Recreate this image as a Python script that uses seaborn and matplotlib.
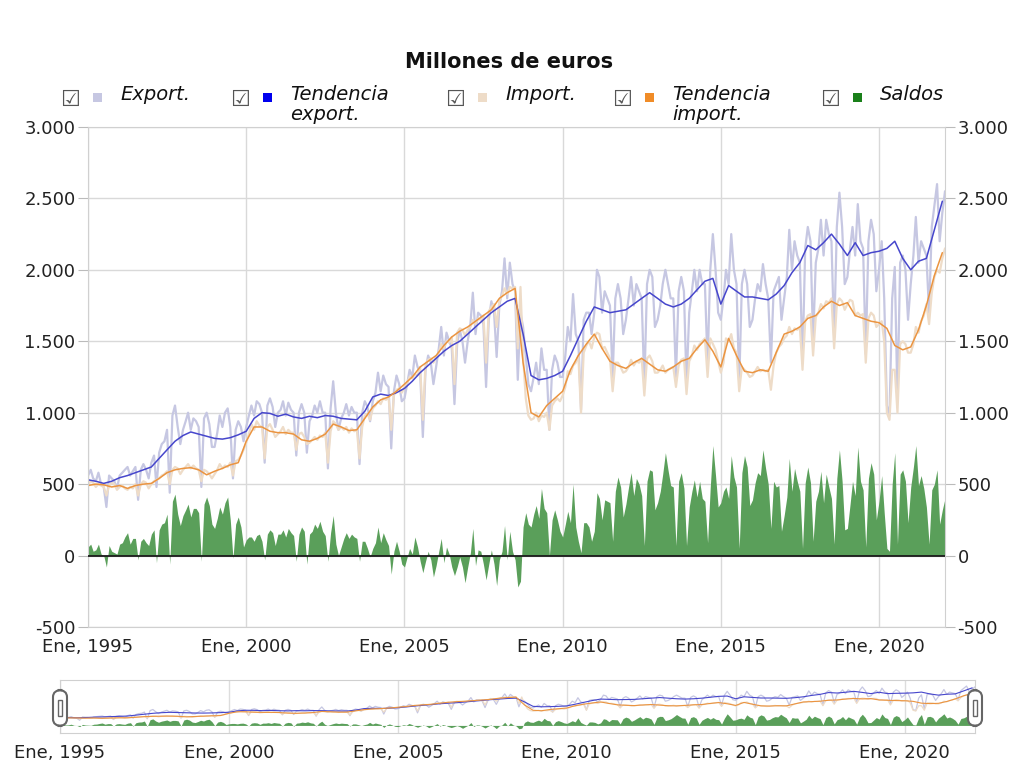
import numpy as np
import pandas as pd
import matplotlib
matplotlib.use("Agg")
import matplotlib.pyplot as plt
import matplotlib.patches as mpatches
import seaborn as sns

# datos mensuales (millones de euros), ene 1995 - feb 2022
export_raw = [
    560, 600, 540, 520, 580, 500, 480, 340, 560, 540, 520, 470,          # 1995
    560, 580, 600, 620, 560, 590, 620, 390, 600, 640, 600, 540,          # 1996
    650, 700, 480, 720, 780, 800, 880, 440, 980, 1050, 900, 780,         # 1997
    880, 940, 1000, 880, 960, 940, 900, 480, 960, 1000, 920, 760,        # 1998
    760, 860, 980, 900, 1000, 1030, 900, 540, 880, 940, 900, 800,        # 1999
    900, 980, 1050, 980, 1080, 1060, 1000, 650, 1050, 1100, 1040, 900,   # 2000
    1000, 1020, 1080, 980, 1070, 1020, 1000, 700, 1000, 1060, 1000, 720, # 2001
    940, 980, 1050, 1000, 1080, 1000, 1000, 610, 1030, 1220, 1000, 880,  # 2002
    960, 1000, 1060, 980, 1040, 1000, 1000, 640, 1000, 1080, 1040, 940,  # 2003
    1080, 1140, 1280, 1150, 1260, 1200, 1180, 750, 1150, 1260, 1200, 1080,  # 2004
    1100, 1200, 1300, 1250, 1400, 1320, 1280, 830, 1300, 1400, 1350, 1200,  # 2005
    1320, 1450, 1600, 1400, 1560, 1500, 1450, 1060, 1480, 1580, 1500, 1350, # 2006
    1500, 1620, 1840, 1550, 1700, 1680, 1620, 1180, 1650, 1780, 1700, 1390, # 2007
    1750, 1850, 2080, 1800, 2050, 1900, 1850, 1230, 1700, 1600, 1400, 1200, # 2008
    1150, 1250, 1350, 1200, 1450, 1300, 1300, 880, 1300, 1400, 1350, 1250,  # 2009
    1250, 1400, 1600, 1500, 1830, 1550, 1500, 1020, 1650, 1700, 1700, 1550, # 2010
    1700, 2000, 1950, 1700, 1850, 1800, 1750, 1250, 1800, 1900, 1800, 1550, # 2011
    1650, 1800, 1950, 1750, 1900, 1850, 1800, 1190, 1900, 2000, 1950, 1600, # 2012
    1650, 1750, 1900, 2000, 1900, 1800, 1800, 1250, 1850, 1950, 1850, 1200, # 2013
    1700, 1850, 2000, 1850, 2000, 1900, 1900, 1340, 2000, 2250, 2000, 1700, # 2014
    1650, 1800, 2000, 1900, 2250, 2000, 1900, 1200, 1900, 2000, 1900, 1600, # 2015
    1650, 1800, 1900, 1850, 2040, 1900, 1800, 1350, 1850, 1900, 1950, 1650, # 2016
    1800, 1950, 2280, 2000, 2200, 2100, 2050, 1350, 2150, 2300, 2200, 1500, # 2017
    2050, 2150, 2350, 2100, 2350, 2250, 2200, 1530, 2300, 2540, 2300, 1900, # 2018
    1950, 2150, 2300, 2100, 2460, 2200, 2150, 1410, 2200, 2350, 2250, 1850, # 2019
    2000, 2200, 1800, 1050, 980, 1800, 2020, 1080, 2050, 2100, 2000, 1650,  # 2020
    1900, 2100, 2370, 2050, 2200, 2150, 2100, 1700, 2300, 2450, 2600, 2200, # 2021
    2400, 2550,                                                             # 2022
]

import_raw = [
    500, 520, 510, 480, 500, 490, 480, 420, 490, 510, 500, 460,          # 1995
    480, 490, 470, 460, 480, 470, 500, 420, 500, 520, 510, 470,          # 1996
    500, 520, 530, 540, 560, 570, 590, 500, 600, 620, 610, 570,          # 1997
    600, 620, 640, 610, 630, 610, 600, 520, 600, 590, 570, 540,          # 1998
    570, 600, 640, 610, 630, 620, 650, 560, 660, 670, 700, 740,          # 1999
    790, 850, 920, 880, 940, 910, 900, 680, 900, 920, 880, 830,          # 2000
    850, 870, 900, 850, 880, 860, 860, 740, 850, 860, 830, 780,          # 2001
    790, 810, 830, 810, 840, 830, 860, 650, 870, 940, 920, 880,          # 2002
    900, 880, 900, 860, 890, 870, 880, 680, 900, 980, 990, 950,          # 2003
    1030, 1050, 1080, 1060, 1100, 1090, 1110, 880, 1120, 1160, 1170, 1140,  # 2004
    1180, 1210, 1250, 1240, 1270, 1260, 1320, 950, 1340, 1370, 1380, 1350,  # 2005
    1390, 1420, 1480, 1450, 1500, 1490, 1530, 1200, 1560, 1590, 1580, 1540, # 2006
    1580, 1600, 1650, 1620, 1660, 1650, 1680, 1350, 1710, 1740, 1760, 1600, # 2007
    1780, 1820, 1870, 1830, 1880, 1870, 1880, 1450, 1880, 1400, 1100, 980,  # 2008
    950, 960, 1000, 940, 980, 970, 1000, 880, 1050, 1080, 1100, 1080,       # 2009
    1120, 1180, 1290, 1270, 1330, 1350, 1400, 1000, 1420, 1470, 1500, 1450, # 2010
    1530, 1560, 1550, 1450, 1460, 1420, 1380, 1150, 1350, 1350, 1320, 1280, # 2011
    1290, 1320, 1370, 1330, 1360, 1350, 1380, 1120, 1380, 1400, 1360, 1280, # 2012
    1280, 1300, 1330, 1280, 1300, 1310, 1320, 1180, 1330, 1370, 1380, 1130, # 2013
    1360, 1400, 1470, 1440, 1480, 1500, 1520, 1250, 1520, 1480, 1440, 1360, # 2014
    1280, 1350, 1520, 1500, 1550, 1450, 1420, 1150, 1320, 1300, 1280, 1250, # 2015
    1260, 1290, 1320, 1290, 1300, 1290, 1300, 1160, 1330, 1420, 1460, 1480, # 2016
    1520, 1540, 1600, 1550, 1590, 1580, 1600, 1300, 1640, 1680, 1690, 1400, # 2017
    1670, 1700, 1760, 1730, 1780, 1770, 1800, 1450, 1760, 1800, 1780, 1720, # 2018
    1760, 1790, 1780, 1680, 1700, 1680, 1690, 1350, 1660, 1700, 1680, 1600, # 2019
    1620, 1640, 1500, 1000, 950, 1300, 1300, 1000, 1480, 1500, 1480, 1420,  # 2020
    1420, 1480, 1600, 1560, 1640, 1680, 1760, 1620, 1840, 1950, 2000, 1980, # 2021
    2080, 2150,                                                             # 2022
]

# tendencias (trimestrales: ene, abr, jul, oct)
tend_export = [
    530, 520, 505, 520,  545, 560, 580, 600,  620, 680, 740, 800,
    840, 865, 850, 835,  820, 815, 825, 845,  870, 960, 1000, 995,
    975, 990, 970, 960,  975, 965, 980, 975,  960, 955, 950, 1010,
    1110, 1130, 1120, 1140,  1170, 1220, 1280, 1330,  1380, 1430, 1470, 1500,
    1550, 1600, 1650, 1700,  1740, 1780, 1800, 1550,  1260, 1230, 1240, 1260,
    1290, 1400, 1520, 1640,  1740, 1720, 1700, 1710,  1720, 1760, 1800, 1840,
    1800, 1760, 1740, 1760,  1800, 1860, 1920, 1940,  1760, 1890, 1850, 1810,
    1810, 1800, 1790, 1830,  1890, 1980, 2050, 2170,  2140, 2190, 2250, 2180,
    2100, 2190, 2100, 2120,  2130, 2150, 2200, 2080,  2000, 2060, 2080, 2280,
    2480,
]
tend_import = [
    490, 500, 495, 480,  490, 470, 490, 500,  505, 540, 580, 600,
    610, 615, 600, 565,  590, 610, 635, 650,  800, 900, 900, 870,
    860, 860, 850, 810,  800, 820, 850, 920,  900, 875, 880, 960,
    1040, 1090, 1110, 1150,  1200, 1250, 1320, 1360,  1400, 1470, 1530, 1570,
    1600, 1640, 1680, 1720,  1800, 1840, 1870, 1350,  1000, 970, 1050, 1100,
    1150, 1300, 1400, 1480,  1550, 1450, 1360, 1330,  1310, 1350, 1380, 1340,
    1300, 1290, 1320, 1360,  1380, 1450, 1510, 1430,  1320, 1520, 1400, 1290,
    1280, 1300, 1290, 1420,  1550, 1570, 1600, 1660,  1680, 1740, 1780, 1750,
    1770, 1680, 1660, 1640,  1630, 1590, 1470, 1440,  1460, 1580, 1750, 1960,
    2120,
]

anios_ticks = [1995, 2000, 2005, 2010, 2015, 2020]
etiquetas_x = ["Ene, 1995", "Ene, 2000", "Ene, 2005", "Ene, 2010", "Ene, 2015", "Ene, 2020"]
yticks = [-500, 0, 500, 1000, 1500, 2000, 2500, 3000]

df = pd.DataFrame({"fecha": pd.date_range("1995-01-01", periods=len(export_raw), freq="MS"),
                   "export": export_raw, "import": import_raw})
df["saldo"] = df["export"] - df["import"]
tend = pd.DataFrame({"fecha": pd.date_range("1995-01-01", periods=len(tend_export), freq="QS"),
                     "export": tend_export, "import": tend_import})

sns.set_style("white")
plt.rcParams["font.family"] = ["DejaVu Sans"]

C_EXP = "#c6c7e2"
C_TEXP = "#4646cc"
C_IMP = "#eedcc8"
C_TIMP = "#eb9440"
C_SAL = "#5a9f5a"

fig = plt.figure(figsize=(10.19, 7.75), dpi=100)
ax = fig.add_axes([0.0864, 0.191, 0.841, 0.6452])

def miles(v, pos=None):
    return f"{v:,.0f}".replace(",", ".")

def dibuja(a, lw_raw, lw_t):
    a.fill_between(df["fecha"], 0, df["saldo"], color=C_SAL, lw=0)
    sns.lineplot(data=df, x="fecha", y="export", ax=a, color=C_EXP, lw=lw_raw)
    sns.lineplot(data=df, x="fecha", y="import", ax=a, color=C_IMP, lw=lw_raw)
    sns.lineplot(data=tend, x="fecha", y="export", ax=a, color=C_TEXP, lw=lw_t)
    sns.lineplot(data=tend, x="fecha", y="import", ax=a, color=C_TIMP, lw=lw_t)
    a.set_xlim(pd.Timestamp("1995-01-01"), pd.Timestamp("2022-02-01"))
    a.set_ylim(-500, 3000)
    a.set_xlabel("")
    a.set_ylabel("")
    a.set_xticks([pd.Timestamp(f"{y}-01-01") for y in anios_ticks])
    a.set_xticklabels(etiquetas_x, fontsize=13, color="#222222")
    for s in a.spines.values():
        s.set_color("#d0d0d0")

dibuja(ax, 1.6, 1.1)
ax.axhline(0, color="#1a1a1a", lw=1.3, zorder=5)
ax.set_yticks(yticks)
ax.yaxis.set_major_formatter(matplotlib.ticker.FuncFormatter(miles))
ax.grid(True, color="#d9d9d9", lw=1)
ax.set_axisbelow(True)
ax.tick_params(axis="y", labelsize=13, labelcolor="#222222", length=7, color="#bbbbbb",
               left=True, right=True, labelleft=True, labelright=True, pad=2)
ax.tick_params(axis="x", length=0, pad=8)

# navegador inferior
ax2 = fig.add_axes([0.0589, 0.0542, 0.898, 0.0684])
dibuja(ax2, 0.9, 0.8)
ax2.set_yticks([])
ax2.grid(True, axis="x", color="#dddddd", lw=1)
ax2.set_axisbelow(True)
ax2.tick_params(axis="x", length=0, pad=8)
for xp in [60, 975]:
    fig.patches.append(mpatches.FancyBboxPatch(((xp - 7) / 1019, 1 - 726 / 775), 14 / 1019, 36 / 775,
                       boxstyle="round,pad=0,rounding_size=0.009", transform=fig.transFigure,
                       facecolor="white", edgecolor="#666666", lw=1.5, zorder=10))
    fig.patches.append(mpatches.Rectangle(((xp - 2) / 1019, 1 - 716 / 775), 4 / 1019, 16 / 775,
                       transform=fig.transFigure, facecolor="white", edgecolor="#666666",
                       lw=1, zorder=11))

# título y leyenda
fig.text(0.5, 1 - 62 / 775, "Millones de euros", ha="center", va="center",
         fontsize=15, fontweight="bold", color="#111111")

items = [(70, C_EXP, "Export."), (240, "#0000ee", "Tendencia\nexport."),
         (455, "#eedcc8", "Import."), (622, "#f08c28", "Tendencia\nimport."),
         (830, "#1a801a", "Saldos")]
y1 = 1 - 97 / 775
for xp, col, txt in items:
    fig.text(xp / 1019, y1 - 0.004, "\u2611", ha="center", va="center", fontsize=16, color="#555555")
    fig.patches.append(mpatches.Rectangle(((xp + 23) / 1019, y1 - 4.5 / 775), 9 / 1019, 9 / 775,
                       transform=fig.transFigure, facecolor=col, edgecolor="none"))
    fig.text((xp + 50) / 1019, y1 + 12 / 775, txt, ha="left", va="top", fontsize=14,
             style="italic", color="#111111", linespacing=1.05)

fig.savefig("out.png", dpi=100)
